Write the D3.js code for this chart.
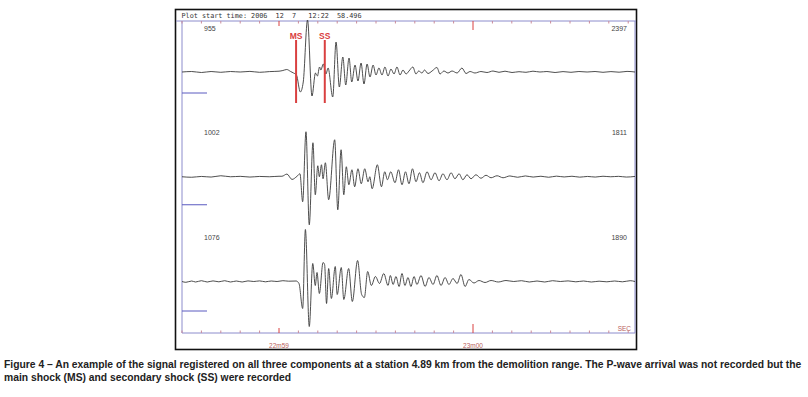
<!DOCTYPE html>
<html>
<head>
<meta charset="utf-8">
<script src="https://cdn.jsdelivr.net/npm/d3@7"></script>
<style>
  body { margin: 0; background: #fff; }
  svg { display: block; }
</style>
</head>
<body>
<script>
const width = 808;
const height = 397;

// seconds after 22:58:00, plot runs from 58.496 s
const timeStart = 58.5;
const timeEnd = 60.835;

// [time (s), amplitude]
const trace1 = [
  [58.50, 0], [58.55, 0.5], [58.60, -0.5], [58.65, 0.5], [58.70, -0.3], [58.75, 0.5],
  [58.80, 0], [58.85, 0.6], [58.90, -0.3], [58.95, 0.4], [59.00, 0.8], [59.02, 1.5],
  [59.04, 2.5], [59.06, 0.5], [59.075, -1], [59.09, -3], [59.11, -20], [59.125, -10],
  [59.147, 52], [59.17, -24], [59.188, -1], [59.198, -4], [59.209, 5], [59.216, 2],
  [59.228, 8], [59.242, -2], [59.253, 4], [59.277, -25], [59.294, 30], [59.311, -15],
  [59.329, 15], [59.344, -13], [59.361, 14], [59.375, -10], [59.392, 7], [59.407, -9],
  [59.423, 9], [59.438, -12], [59.454, 8], [59.469, -5], [59.485, 7], [59.50, -3],
  [59.515, 4], [59.531, -3], [59.546, 5], [59.562, -4], [59.577, 3], [59.593, -2],
  [59.608, 5], [59.624, -3], [59.639, 2], [59.655, -2], [59.67, 1], [59.69, 5],
  [59.706, -2], [59.72, 1], [59.737, -1], [59.75, 2], [59.768, -1.5], [59.789, 1],
  [59.814, 4.5], [59.83, -2], [59.85, 1], [59.871, -1], [59.892, 1], [59.918, -1],
  [59.943, 4], [59.964, -1.5], [59.985, 0.5], [60.01, -1], [60.041, 0.5], [60.072, -0.5],
  [60.103, 1], [60.134, -0.3], [60.165, 0.8], [60.201, -0.5], [60.237, 0.3], [60.273, -0.3],
  [60.309, 0.8], [60.345, 0], [60.381, 0.5], [60.423, -0.5], [60.464, 0.4], [60.505, -0.3],
  [60.546, 0.5], [60.588, 0], [60.629, 0.5], [60.67, -0.3], [60.711, 0.4], [60.753, -0.2],
  [60.794, 0.6], [60.835, 0]
];

const trace2 = [
  [58.50, 0], [58.55, -0.5], [58.60, 0.3], [58.65, -0.3], [58.70, 1], [58.75, 0],
  [58.80, 0.4], [58.85, -0.3], [58.90, 0.3], [58.95, 0], [59.00, 0.5], [59.015, 0.5],
  [59.041, 2.7], [59.067, -2.7], [59.093, 0.5], [59.108, 3], [59.122, -25], [59.139, 45],
  [59.156, -48], [59.175, 34], [59.187, -18], [59.20, 11], [59.208, 0], [59.219, 12],
  [59.227, -2], [59.239, 14], [59.256, -23], [59.287, 37], [59.303, -33], [59.32, 27],
  [59.334, -18], [59.347, 10], [59.36, -8], [59.376, 7], [59.39, -10], [59.407, 8],
  [59.424, -7], [59.442, 8], [59.459, -5], [59.468, 0], [59.48, -12], [59.507, 12],
  [59.528, -10], [59.545, 5], [59.559, -3], [59.576, 5], [59.598, -6], [59.616, 7],
  [59.634, -8], [59.652, 5], [59.67, -7], [59.688, 8], [59.706, -5], [59.724, 4],
  [59.742, -6], [59.763, 5], [59.784, -3], [59.804, 4], [59.825, -4], [59.845, 3],
  [59.866, -3], [59.887, 4], [59.907, -2], [59.928, 3], [59.948, -3], [59.969, 2],
  [59.99, -2], [60.015, 2], [60.041, -1.5], [60.067, 1.5], [60.093, -1], [60.124, 1],
  [60.155, -1], [60.19, 0.8], [60.23, -0.5], [60.27, 0.8], [60.31, -0.3], [60.35, 0.5],
  [60.39, -0.5], [60.43, 0.6], [60.47, -0.2], [60.51, 0.5], [60.55, -0.4], [60.59, 0.3],
  [60.63, -0.3], [60.67, 0.5], [60.71, 0], [60.75, 0.4], [60.79, -0.3], [60.835, 0.3]
];

const trace3 = [
  [58.50, 0], [58.52, -0.8], [58.55, 0.5], [58.57, -0.5], [58.60, 0.8], [58.63, -0.5],
  [58.66, 0.6], [58.69, -0.3], [58.72, 0.8], [58.75, -0.5], [58.78, 0.5], [58.81, -0.5],
  [58.84, 0.6], [58.87, 0], [58.90, 0.6], [58.93, -0.3], [58.96, 0.5], [58.99, 0],
  [59.02, 0.8], [59.05, 0.3], [59.088, 0.5], [59.103, -2], [59.122, -27], [59.136, 52],
  [59.156, -45], [59.174, 18], [59.187, -4], [59.196, 9], [59.208, -12], [59.227, 19],
  [59.235, 17], [59.245, -22], [59.256, 13], [59.27, -17], [59.29, 15], [59.30, -13],
  [59.321, 14], [59.334, -18], [59.359, 13], [59.378, -20], [59.405, 21], [59.426, -13],
  [59.44, -16], [59.457, 10], [59.476, -4], [59.497, 5], [59.518, -2], [59.54, 8],
  [59.562, -4], [59.574, 6], [59.588, -3], [59.603, 5], [59.619, -5], [59.634, 8],
  [59.649, -4], [59.665, 4], [59.68, -5], [59.696, 5], [59.711, -3], [59.732, 6],
  [59.753, -5], [59.773, 4], [59.794, -3], [59.814, 6], [59.835, -4], [59.856, 4],
  [59.876, -3], [59.897, 3], [59.918, -2], [59.938, 7], [59.959, -5], [59.979, 2],
  [60.005, -1.5], [60.031, 1], [60.062, -1], [60.093, 1], [60.13, -0.5], [60.17, 1],
  [60.21, 0], [60.25, 0.8], [60.29, -0.5], [60.33, 0.5], [60.37, -0.5], [60.41, 0.8],
  [60.45, 0], [60.49, 0.6], [60.53, -0.3], [60.57, 0.5], [60.61, -0.5], [60.65, 0.3],
  [60.69, -0.3], [60.73, 0.5], [60.77, -0.3], [60.81, 0.8], [60.835, 0]
];

const traces = [trace1, trace2, trace3];
const leftLabels = ["955", "1002", "1076"];
const rightLabels = ["2397", "1811", "1890"];
// level of the short blue calibration mark under each trace
const barLevels = [-21, -28, -29.5];

const picks = [
  { name: "MS", t: 59.088 },
  { name: "SS", t: 59.236 }
];
const pickTop = 32;
const pickBottom = -31;

const majorTicks = [
  { t: 59, label: "22m59", len: 5 },
  { t: 60, label: "23m00", len: 9 }
];

const headerText = "Plot start time: 2006  12  7   12:22  58.496";
const captionLines = [
  "Figure 4 \u2013 An example of the signal registered on all three components at a station 4.89 km from the demolition range. The P-wave arrival was not recorded but the",
  "main shock (MS) and secondary shock (SS) were recorded"
];

const svg = d3.select("body")
  .append("svg")
  .attr("width", width)
  .attr("height", height);

const plot = { left: 182, right: 635, top: 21, bottom: 333 };

const x = d3.scaleLinear()
  .domain([timeStart, timeEnd])
  .range([plot.left, plot.right]);

const channel = d3.scalePoint()
  .domain([0, 1, 2])
  .range([72, 281.5]);

const amp = d3.scaleLinear()
  .domain([-60, 60])
  .range([60, -60]);

const axisColor = "#8c8ccc";
const tickColor = "#c98a9a";
const redColor = "#d94040";

// outer frame
svg.append("rect")
  .attr("x", 175.5)
  .attr("y", 9.5)
  .attr("width", 461)
  .attr("height", 340)
  .attr("fill", "none")
  .attr("stroke", "#111")
  .attr("stroke-width", 1.6);

// header
svg.append("text")
  .attr("x", 181.5)
  .attr("y", 17.5)
  .attr("font-family", "DejaVu Sans Mono, monospace")
  .attr("font-size", 6.8)
  .attr("fill", "#333")
  .style("white-space", "pre")
  .text(headerText);

// plot box lines
svg.append("line")
  .attr("x1", 176).attr("x2", 636)
  .attr("y1", plot.top).attr("y2", plot.top)
  .attr("stroke", axisColor).attr("stroke-width", 1);
svg.append("line")
  .attr("x1", plot.left).attr("x2", plot.right)
  .attr("y1", plot.bottom).attr("y2", plot.bottom)
  .attr("stroke", axisColor).attr("stroke-width", 1);
svg.append("line")
  .attr("x1", plot.left).attr("x2", plot.left)
  .attr("y1", plot.top).attr("y2", plot.bottom)
  .attr("stroke", axisColor).attr("stroke-width", 1);
svg.append("line")
  .attr("x1", plot.right).attr("x2", plot.right)
  .attr("y1", plot.top).attr("y2", plot.bottom)
  .attr("stroke", axisColor).attr("stroke-width", 1);

// minor ticks every 0.1 s, top and bottom
const minorTicks = d3.range(0, 24).map(i => 58.5 + i * 0.1)
  .filter(t => t <= timeEnd && Math.abs(t - Math.round(t)) > 0.01);

[plot.top, plot.bottom].forEach((yy, k) => {
  const dir = k === 0 ? 1 : -1;
  svg.selectAll(null)
    .data(minorTicks)
    .enter()
    .append("line")
    .attr("x1", d => x(d)).attr("x2", d => x(d))
    .attr("y1", yy).attr("y2", yy + dir * 2.5)
    .attr("stroke", tickColor)
    .attr("stroke-width", 1);
  svg.selectAll(null)
    .data(majorTicks)
    .enter()
    .append("line")
    .attr("x1", d => x(d.t)).attr("x2", d => x(d.t))
    .attr("y1", yy).attr("y2", d => yy + dir * d.len)
    .attr("stroke", redColor)
    .attr("stroke-width", 1);
});

// time labels
svg.selectAll(null)
  .data(majorTicks)
  .enter()
  .append("text")
  .attr("x", d => x(d.t))
  .attr("y", 347.5)
  .attr("text-anchor", "middle")
  .attr("font-family", "Liberation Sans, Arial, sans-serif")
  .attr("font-size", 6.5)
  .attr("fill", "#b86060")
  .text(d => d.label);

svg.append("text")
  .attr("x", 631)
  .attr("y", 330.5)
  .attr("text-anchor", "end")
  .attr("font-family", "Liberation Sans, Arial, sans-serif")
  .attr("font-size", 6.5)
  .attr("fill", "#b86060")
  .text("SEC");

// traces
const line = d3.line()
  .x(d => x(d[0]))
  .curve(d3.curveMonotoneX);

traces.forEach((tr, i) => {
  const base = channel(i);
  svg.append("path")
    .datum(tr)
    .attr("d", line.y(d => base + amp(d[1])))
    .attr("fill", "none")
    .attr("stroke", "#3a3a3a")
    .attr("stroke-width", 0.9)
    .attr("stroke-linejoin", "round");

  // calibration mark
  svg.append("line")
    .attr("x1", plot.left).attr("x2", plot.left + 25)
    .attr("y1", base + amp(barLevels[i]))
    .attr("y2", base + amp(barLevels[i]))
    .attr("stroke", "#5a5ac0")
    .attr("stroke-width", 1);

  svg.append("text")
    .attr("x", 204)
    .attr("y", base - 41.5)
    .attr("font-family", "Liberation Sans, Arial, sans-serif")
    .attr("font-size", 7)
    .attr("fill", "#444")
    .text(leftLabels[i]);

  svg.append("text")
    .attr("x", 627)
    .attr("y", base - 41.5)
    .attr("text-anchor", "end")
    .attr("font-family", "Liberation Sans, Arial, sans-serif")
    .attr("font-size", 7)
    .attr("fill", "#444")
    .text(rightLabels[i]);
});

// MS / SS picks on the first trace
const base1 = channel(0);
svg.selectAll(null)
  .data(picks)
  .enter()
  .append("line")
  .attr("x1", d => x(d.t)).attr("x2", d => x(d.t))
  .attr("y1", base1 + amp(pickTop))
  .attr("y2", base1 + amp(pickBottom))
  .attr("stroke", redColor)
  .attr("stroke-width", 2);

svg.selectAll(null)
  .data(picks)
  .enter()
  .append("text")
  .attr("x", d => x(d.t))
  .attr("y", base1 + amp(pickTop) - 1.5)
  .attr("text-anchor", "middle")
  .attr("font-family", "Liberation Sans, Arial, sans-serif")
  .attr("font-weight", "bold")
  .attr("font-size", 8.5)
  .attr("fill", redColor)
  .text(d => d.name);

// caption: size the font so the first line spans the page width
const captionWidth = 798;
const caption = svg.selectAll(null)
  .data(captionLines)
  .enter()
  .append("text")
  .attr("x", 4)
  .attr("y", (d, i) => 367.5 + i * 13.5)
  .attr("font-family", "Liberation Sans Narrow, Arial Narrow, sans-serif")
  .attr("font-weight", "bold")
  .attr("font-size", 10)
  .attr("fill", "#222")
  .text(d => d);

const natural = caption.nodes()[0].getComputedTextLength();
const fitSize = Math.min(10.5, 10 * captionWidth / natural);
caption.attr("font-size", fitSize);
</script>
</body>
</html>
